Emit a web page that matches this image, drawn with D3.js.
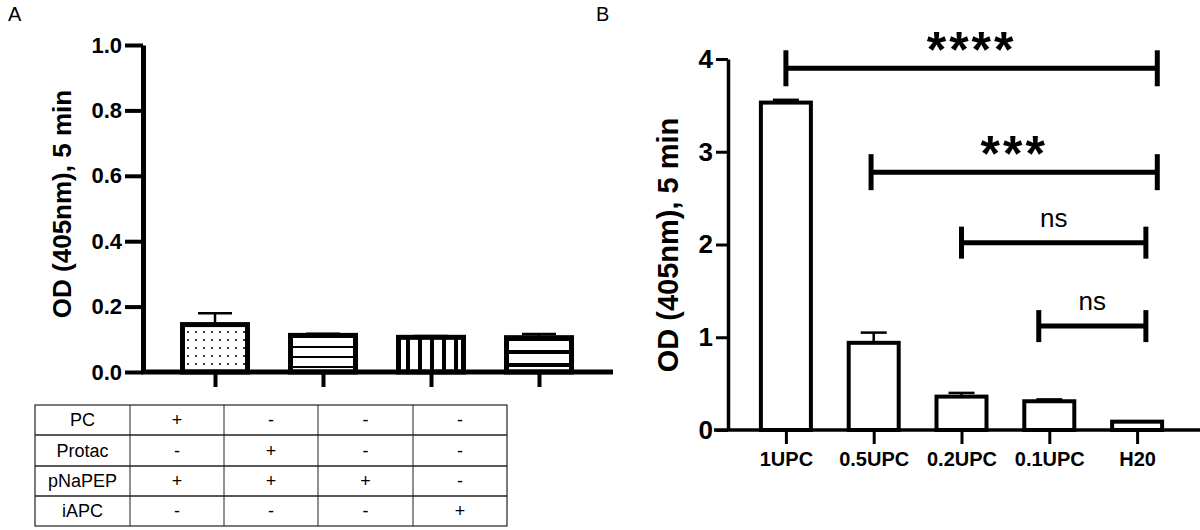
<!DOCTYPE html>
<html>
<head>
<meta charset="utf-8">
<script src="https://cdn.jsdelivr.net/npm/d3@7"></script>
<style>
  body { margin: 0; background: #fff; }
  svg { display: block; font-family: "Liberation Sans", Arial, sans-serif; }
  .bold { font-weight: bold; }
</style>
</head>
<body>
<svg id="canvas" width="1200" height="530"></svg>
<script>
// Panel A data
const gruposA = ["g1", "g2", "g3", "g4"];
const valoresA = [0.145, 0.112, 0.106, 0.105];
const erroresA = [0.035, 0.005, 0.004, 0.011];
const patronesA = ["puntos", "lineasH", "lineasV", "lineasHGruesas"];
const ticksA = [0, 0.2, 0.4, 0.6, 0.8, 1.0];

// Tabla debajo del panel A
const filasTabla = ["PC", "Protac", "pNaPEP", "iAPC"];
const celdasTabla = [
    ["+", "-", "-", "-"],
    ["-", "+", "-", "-"],
    ["+", "+", "+", "-"],
    ["-", "-", "-", "+"]
];

// Panel B data
const gruposB = ["1UPC", "0.5UPC", "0.2UPC", "0.1UPC", "H20"];
const valoresB = [3.53, 0.94, 0.36, 0.31, 0.09];
const erroresB = [0.03, 0.11, 0.04, 0.02, 0.0];
const ticksB = [0, 1, 2, 3, 4];

// Comparaciones (posicion en indices de grupo, altura en unidades del eje)
const compDesde = [0, 0.97, 2, 2.88];
const compHasta = [4.23, 4.23, 4.1, 4.1];
const compAltura = [3.9, 2.78, 2.02, 1.12];
const compTexto = ["****", "***", "ns", "ns"];

const svg = d3.select("#canvas");

// Patrones de relleno
const defs = svg.append("defs");
const pDots = defs.append("pattern").attr("id", "puntos")
    .attr("patternUnits", "userSpaceOnUse").attr("width", 8).attr("height", 8);
pDots.append("rect").attr("width", 8).attr("height", 8).attr("fill", "#fff");
pDots.append("circle").attr("cx", 4).attr("cy", 4).attr("r", 1).attr("fill", "#000");

const pH = defs.append("pattern").attr("id", "lineasH")
    .attr("patternUnits", "userSpaceOnUse").attr("width", 10).attr("height", 10)
    .attr("y", 372);
pH.append("rect").attr("width", 10).attr("height", 10).attr("fill", "#fff");
pH.append("rect").attr("y", 4).attr("width", 10).attr("height", 2).attr("fill", "#000");

const pV = defs.append("pattern").attr("id", "lineasV")
    .attr("patternUnits", "userSpaceOnUse").attr("width", 12).attr("height", 12)
    .attr("x", 400);
pV.append("rect").attr("width", 12).attr("height", 12).attr("fill", "#fff");
pV.append("rect").attr("x", 6).attr("width", 4).attr("height", 12).attr("fill", "#000");

const pHG = defs.append("pattern").attr("id", "lineasHGruesas")
    .attr("patternUnits", "userSpaceOnUse").attr("width", 13).attr("height", 13)
    .attr("y", 372);
pHG.append("rect").attr("width", 13).attr("height", 13).attr("fill", "#fff");
pHG.append("rect").attr("y", 4).attr("width", 13).attr("height", 4).attr("fill", "#000");

// Letras de panel
svg.append("text").attr("x", 8).attr("y", 21).attr("font-size", 20).text("A");
svg.append("text").attr("x", 596).attr("y", 21).attr("font-size", 20).text("B");

// ---------- Panel A ----------
const yA = d3.scaleLinear().domain([0, 1]).range([372, 45]);
const xA = d3.scalePoint().domain(gruposA).range([161, 593]).padding(0.5);
const anchoA = 65;

const gA = svg.append("g");

// barras
gruposA.forEach((g, i) => {
    const cx = xA(g);
    const top = yA(valoresA[i]);
    // barra de error (solo hacia arriba)
    gA.append("line")
        .attr("x1", cx).attr("x2", cx)
        .attr("y1", top).attr("y2", yA(valoresA[i] + erroresA[i]))
        .attr("stroke", "#000").attr("stroke-width", 2.5);
    gA.append("line")
        .attr("x1", cx - 17).attr("x2", cx + 17)
        .attr("y1", yA(valoresA[i] + erroresA[i])).attr("y2", yA(valoresA[i] + erroresA[i]))
        .attr("stroke", "#000").attr("stroke-width", 2.5);
    gA.append("rect")
        .attr("x", cx - anchoA / 2)
        .attr("y", top)
        .attr("width", anchoA)
        .attr("height", yA(0) - top)
        .attr("fill", `url(#${patronesA[i]})`)
        .attr("stroke", "#000")
        .attr("stroke-width", 5);
});

// eje Y
const ejeYA = gA.append("g")
    .attr("transform", "translate(143,0)")
    .call(d3.axisLeft(yA).tickValues(ticksA).tickFormat(d3.format(".1f")).tickSize(18).tickSizeOuter(0).tickPadding(3));
ejeYA.select(".domain").attr("stroke-width", 5);
ejeYA.selectAll(".tick line").attr("stroke-width", 4);
ejeYA.selectAll(".tick text").attr("class", "bold").attr("font-size", 22)
    .attr("font-family", "Liberation Sans, Arial, sans-serif").attr("fill", "#000");

// eje X
gA.append("line").attr("x1", 141).attr("x2", 613).attr("y1", 372).attr("y2", 372)
    .attr("stroke", "#000").attr("stroke-width", 5);
const ejeXA = gA.append("g")
    .attr("transform", "translate(0,372)")
    .call(d3.axisBottom(xA).tickSize(15).tickFormat(""));
ejeXA.select(".domain").remove();
ejeXA.selectAll(".tick line").attr("stroke-width", 4);

// etiqueta eje Y
gA.append("text")
    .attr("class", "bold")
    .attr("transform", "translate(71,204) rotate(-90)")
    .attr("text-anchor", "middle")
    .attr("font-size", 26)
    .text("OD (405nm), 5 min");

// tabla
const colX = [35, 130, 224, 318, 413, 507];
const filaY = [405, 435, 466, 496, 526];
const gT = svg.append("g");
gT.append("rect").attr("x", colX[0]).attr("y", filaY[0])
    .attr("width", colX[5] - colX[0]).attr("height", filaY[4] - filaY[0])
    .attr("fill", "none").attr("stroke", "#222").attr("stroke-width", 1.2);
colX.slice(1, 5).forEach(x => {
    gT.append("line").attr("x1", x).attr("x2", x).attr("y1", filaY[0]).attr("y2", filaY[4])
        .attr("stroke", "#222").attr("stroke-width", 1);
});
filaY.slice(1, 4).forEach(y => {
    gT.append("line").attr("x1", colX[0]).attr("x2", colX[5]).attr("y1", y).attr("y2", y)
        .attr("stroke", "#222").attr("stroke-width", 1.5);
});
const fuenteTabla = "'Liberation Sans Narrow', 'Liberation Sans', Arial, sans-serif";
filasTabla.forEach((f, r) => {
    const cy = (filaY[r] + filaY[r + 1]) / 2;
    gT.append("text").attr("x", (colX[0] + colX[1]) / 2).attr("y", cy)
        .attr("dy", "0.36em").attr("text-anchor", "middle")
        .attr("font-family", fuenteTabla).attr("font-size", 18).attr("fill", "#000").text(f);
    celdasTabla[r].forEach((c, k) => {
        gT.append("text").attr("x", (colX[k + 1] + colX[k + 2]) / 2).attr("y", cy)
            .attr("dy", "0.36em").attr("text-anchor", "middle")
            .attr("font-family", fuenteTabla).attr("font-size", 18).attr("fill", "#000").text(c);
    });
});

// ---------- Panel B ----------
const yB = d3.scaleLinear().domain([0, 4]).range([430, 59]);
const xB = d3.scalePoint().domain(gruposB).range([742, 1181]).padding(0.5);
const xIdx = d3.scaleLinear().domain([0, gruposB.length - 1]).range([xB(gruposB[0]), xB(gruposB[gruposB.length - 1])]);
const anchoB = 50;

const gB = svg.append("g");

gruposB.forEach((g, i) => {
    const cx = xB(g);
    const top = yB(valoresB[i]);
    if (erroresB[i] > 0) {
        const e = yB(valoresB[i] + erroresB[i]);
        gB.append("line").attr("x1", cx).attr("x2", cx).attr("y1", top).attr("y2", e)
            .attr("stroke", "#000").attr("stroke-width", 2.5);
        gB.append("line").attr("x1", cx - 13).attr("x2", cx + 13).attr("y1", e).attr("y2", e)
            .attr("stroke", "#000").attr("stroke-width", 2.5);
    }
    gB.append("rect")
        .attr("x", cx - anchoB / 2)
        .attr("y", top)
        .attr("width", anchoB)
        .attr("height", yB(0) - top)
        .attr("fill", "#fff")
        .attr("stroke", "#000")
        .attr("stroke-width", 4);
});

const ejeYB = gB.append("g")
    .attr("transform", "translate(728,0)")
    .call(d3.axisLeft(yB).tickValues(ticksB).tickFormat(d3.format("d")).tickSize(12).tickSizeOuter(0).tickPadding(3));
ejeYB.select(".domain").attr("stroke-width", 3.5);
ejeYB.selectAll(".tick line").attr("stroke-width", 3);
ejeYB.selectAll(".tick text").attr("class", "bold").attr("font-size", 26)
    .attr("font-family", "Liberation Sans, Arial, sans-serif").attr("fill", "#000");

gB.append("line").attr("x1", 714).attr("x2", 1200).attr("y1", 430).attr("y2", 430)
    .attr("stroke", "#000").attr("stroke-width", 3.5);
const ejeXB = gB.append("g")
    .attr("transform", "translate(0,430)")
    .call(d3.axisBottom(xB).tickSize(14).tickPadding(8));
ejeXB.select(".domain").remove();
ejeXB.selectAll(".tick line").attr("stroke-width", 3);
ejeXB.selectAll(".tick text").attr("class", "bold").attr("font-size", 20)
    .attr("font-family", "Liberation Sans, Arial, sans-serif").attr("fill", "#000");

gB.append("text")
    .attr("class", "bold")
    .attr("transform", "translate(678,245) rotate(-90)")
    .attr("text-anchor", "middle")
    .attr("font-size", 29)
    .text("OD (405nm), 5 min");

// comparaciones
compTexto.forEach((t, i) => {
    const x1 = xIdx(compDesde[i]);
    const x2 = xIdx(compHasta[i]);
    const y = yB(compAltura[i]);
    const cap = i < 2 ? 18 : 16;
    gB.append("line").attr("x1", x1).attr("x2", x2).attr("y1", y).attr("y2", y)
        .attr("stroke", "#000").attr("stroke-width", 5);
    [x1, x2].forEach(x => {
        gB.append("line").attr("x1", x).attr("x2", x).attr("y1", y - cap).attr("y2", y + cap)
            .attr("stroke", "#000").attr("stroke-width", 5);
    });
    const esNs = t === "ns";
    gB.append("text")
        .attr("x", (x1 + x2) / 2)
        .attr("y", esNs ? y - 16 : y - 1)
        .attr("text-anchor", "middle")
        .attr("font-size", esNs ? 26 : 50)
        .attr("font-weight", esNs ? "normal" : "bold")
        .attr("letter-spacing", esNs ? 0 : 3)
        .text(t);
});
</script>
</body>
</html>
